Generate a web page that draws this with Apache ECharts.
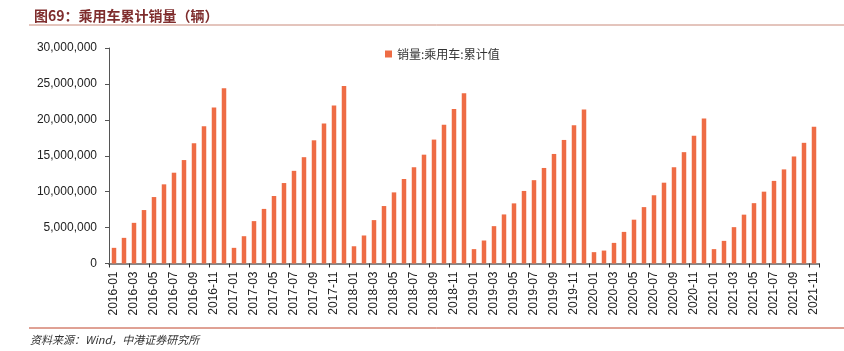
<!DOCTYPE html>
<html>
<head>
<meta charset="utf-8">
<script src="https://cdn.jsdelivr.net/npm/echarts@6/dist/echarts.min.js"></script>
<style>
  html, body { margin: 0; padding: 0; background: #fff; }
  #main { width: 844px; height: 351px; }
</style>
</head>
<body>
<div id="main"></div>
<script>
// 月份 2016-01 ~ 2021-11
var months = [];
var years = ['2016', '2017', '2018', '2019', '2020', '2021'];
years.forEach(function (y) {
  for (var m = 1; m <= 12; m++) {
    if (y === '2021' && m > 11) break;
    months.push(y + '-' + (m < 10 ? '0' + m : m));
  }
});

// 销量:乘用车:累计值（辆）
var sales2016 = [2180000, 3570000, 5660000, 7440000, 9250000, 11020000, 12640000, 14400000, 16740000, 19100000, 21700000, 24380000];
var sales2017 = [2180000, 3800000, 5900000, 7600000, 9400000, 11200000, 12900000, 14800000, 17150000, 19500000, 22000000, 24720000];
var sales2018 = [2400000, 3900000, 6040000, 8000000, 9900000, 11760000, 13400000, 15150000, 17250000, 19300000, 21500000, 23710000];
var sales2019 = [2000000, 3200000, 5200000, 6830000, 8370000, 10100000, 11600000, 13300000, 15250000, 17200000, 19250000, 21440000];
var sales2020 = [1580000, 1800000, 2870000, 4400000, 6100000, 7850000, 9500000, 11250000, 13400000, 15500000, 17800000, 20180000];
var sales2021 = [2000000, 3150000, 5060000, 6800000, 8400000, 10000000, 11500000, 13100000, 14900000, 16800000, 19050000];
var sales = [].concat(sales2016, sales2017, sales2018, sales2019, sales2020, sales2021);

var yTicks = [0, 5000000, 10000000, 15000000, 20000000, 25000000, 30000000];

var myChart = echarts.init(document.getElementById('main'));
myChart.setOption({
  animation: false,
  textStyle: { fontFamily: 'Liberation Sans, Arial, Noto Sans CJK SC, sans-serif' },
  title: {
    text: '图69：乘用车累计销量（辆）',
    left: 29,
    top: 4,
    textStyle: { color: '#7f2d2d', fontSize: 14, fontWeight: 'bold', fontFamily: 'Noto Sans CJK SC' }
  },
  graphic: [
    { type: 'line', shape: { x1: 29, y1: 25, x2: 844, y2: 25 }, style: { stroke: '#c98a7a', lineWidth: 1 } },
    { type: 'line', shape: { x1: 29, y1: 328, x2: 844, y2: 328 }, style: { stroke: '#c0452a', lineWidth: 1 } },
    {
      type: 'text', left: 30, top: 334,
      style: { text: '资料来源：Wind，中港证券研究所', fill: '#333', font: 'italic 11px "Noto Sans CJK SC", sans-serif' }
    }
  ],
  legend: {
    data: ['销量:乘用车:累计值'],
    left: 380,
    top: 43,
    itemWidth: 7,
    itemHeight: 7,
    itemGap: 4,
    icon: 'rect',
    textStyle: { fontSize: 12, color: '#333', fontFamily: 'Noto Sans CJK SC' }
  },
  grid: { left: 109, right: 25, top: 48, bottom: 87.5, containLabel: false },
  xAxis: {
    type: 'category',
    data: months,
    axisLine: { lineStyle: { color: '#888', width: 2 } },
    axisTick: { show: true, interval: 1, alignWithLabel: false, length: 4, lineStyle: { color: '#333' } },
    axisLabel: { interval: 1, rotate: 90, fontSize: 12, color: '#222', margin: 8 }
  },
  yAxis: {
    type: 'value',
    min: yTicks[0],
    max: yTicks[yTicks.length - 1],
    interval: 5000000,
    axisLine: { show: true, lineStyle: { color: '#555' } },
    axisTick: { show: true, inside: false, length: 4, lineStyle: { color: '#555' } },
    splitLine: { show: false },
    axisLabel: {
      fontSize: 12, color: '#222', margin: 12,
      formatter: function (v) { return v.toString().replace(/\B(?=(\d{3})+(?!\d))/g, ','); }
    }
  },
  series: [
    {
      name: '销量:乘用车:累计值',
      type: 'bar',
      data: sales,
      barWidth: '45%',
      itemStyle: { color: '#ee6c45' }
    }
  ]
});
</script>
</body>
</html>
